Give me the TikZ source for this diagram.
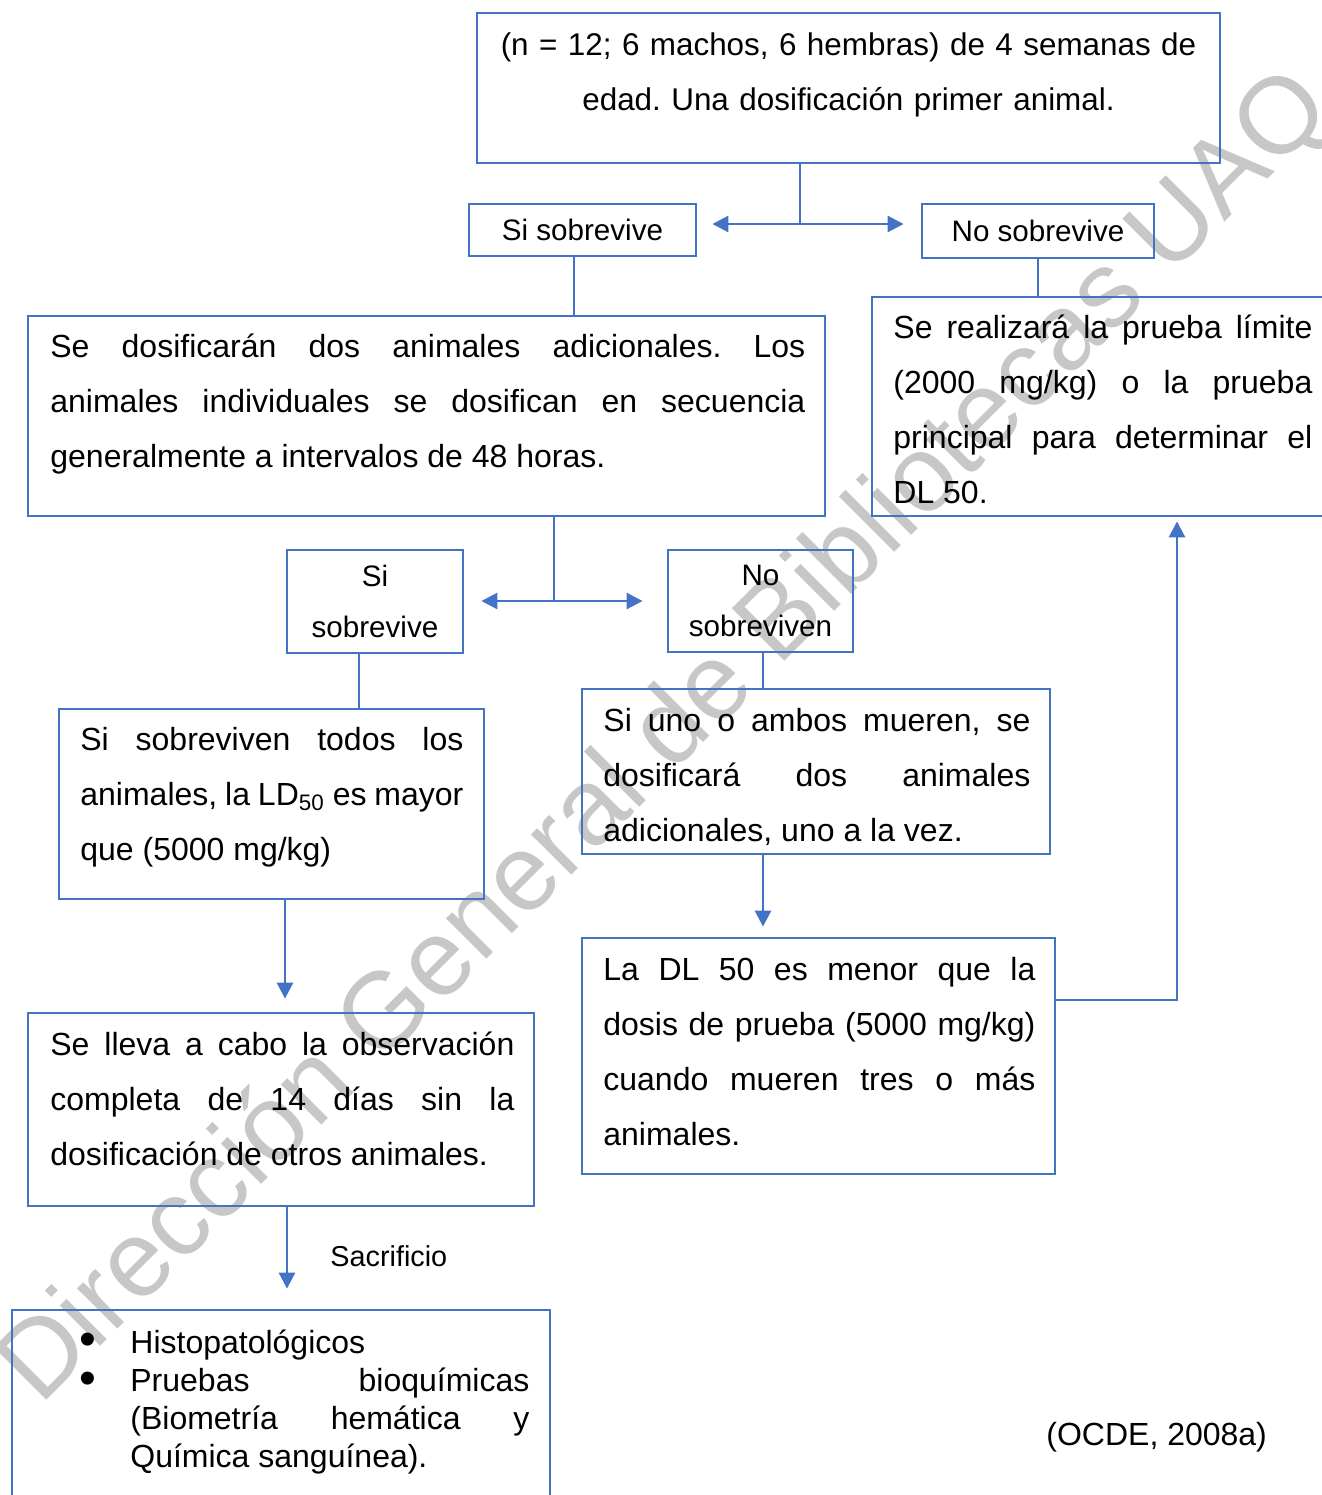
\documentclass[tikz,border=0pt]{standalone}
\usepackage{fontspec}
\setmainfont{Liberation Sans}
\usetikzlibrary{arrows.meta}
\definecolor{azul}{HTML}{4472C4}
\hyphenpenalty=10000
\exhyphenpenalty=10000
\tolerance=10000
\frenchspacing

\tikzset{
  caja/.style={draw=azul, line width=1.4pt, inner sep=0pt},
  linea/.style={azul, line width=1.4pt},
  flecha/.style={azul, line width=1.4pt, -{Triangle[length=8pt,width=8pt]}},
  letra/.style={font=\fontsize{16}{27.5}\selectfont},
  chica/.style={font=\fontsize{14.8}{25.5}\selectfont},
  texto/.style={letra, anchor=base west, inner sep=0pt, align=justify},
}

\begin{document}
\begin{tikzpicture}[x=0.5pt, y=-0.5pt]
  \useasboundingbox (0,0) rectangle (1322,1495);
  % marca de agua
  \node [rotate=45, text=black!22, font=\fontsize{54}{54}\selectfont] (marca) at (667,738) {Dirección General de Bibliotecas UAQ};

  % cajas
  \node [caja, minimum width=371.5pt, minimum height=75pt] (inicio) at (848.5,88) {};
  \node [caja, chica, minimum width=113.5pt, minimum height=26pt] (si1) at (582.5,230) {Si sobrevive};
  \node [caja, chica, minimum width=116pt, minimum height=27pt] (no1) at (1038,231) {No sobrevive};
  \node [caja, minimum width=398.5pt, minimum height=100pt] (dosif) at (426.5,416) {};
  \node [caja, minimum width=236.5pt, minimum height=109.5pt] (limite) at (1108.5,406.5) {};
  \node [caja, chica, align=center, minimum width=88pt, minimum height=51.5pt] (si2) at (375,601.5) {Si\\sobrevive};
  \node [caja, chica, align=center, minimum width=92.5pt, minimum height=51pt] (no2) at (760.5,601) {No\\sobreviven};
  \node [caja, minimum width=212.5pt, minimum height=95pt] (todos) at (271.5,804) {};
  \node [caja, minimum width=234pt, minimum height=82.5pt] (ambos) at (816,771.5) {};
  \node [caja, minimum width=236.5pt, minimum height=118pt] (menor) at (818.5,1056) {};
  \node [caja, minimum width=253pt, minimum height=96.5pt] (observ) at (281,1109.5) {};
  \node [caja, minimum width=269pt, minimum height=100pt] (analisis) at (281,1410) {};

  % textos
  \node [font=\fontsize{15.7}{27.5}\selectfont, anchor=base, inner sep=0pt, text width=371pt, align=center] (inicio-t) at (848.5,55)
    {(n = 12; 6 machos, 6 hembras) de 4 semanas de\\edad. Una dosificación primer animal.};
  \node [texto, text width=377.5pt] (dosif-t) at (50,357)
    {Se dosificarán dos animales adicionales. Los\linebreak animales individuales se dosifican en secuencia\linebreak generalmente a intervalos de 48 horas.};
  \node [texto, text width=209.5pt] (limite-t) at (893,338)
    {Se realizará la prueba límite\linebreak (2000 mg/kg) o la prueba\linebreak principal para determinar el\linebreak DL 50.};
  \node [texto, text width=191.5pt] (todos-t) at (80,750)
    {Si sobreviven todos los\linebreak animales, la LD\textsubscript{50} es mayor\linebreak que (5000 mg/kg)};
  \node [texto, text width=213.5pt] (ambos-t) at (603,731)
    {Si uno o ambos mueren, se\linebreak dosificará dos animales\linebreak adicionales, uno a la vez.};
  \node [texto, text width=216pt] (menor-t) at (603,980)
    {La DL 50 es menor que la\linebreak dosis de prueba (5000 mg/kg)\linebreak cuando mueren tres o más\linebreak animales.};
  \node [texto, text width=232pt] (observ-t) at (50,1055)
    {Se lleva a cabo la observación\linebreak completa de 14 días sin la\linebreak dosificación de otros animales.};
  \node [texto, font=\fontsize{16}{19}\selectfont, text width=199.5pt] (analisis-t) at (130,1353)
    {Histopatológicos\\Pruebas bioquímicas\linebreak (Biometría hemática y\linebreak Química sanguínea).};
  \node [anchor=base, inner sep=0pt, font=\fontsize{24}{24}\selectfont] (punto1) at (88,1355) {•};
  \node [anchor=base, inner sep=0pt, font=\fontsize{24}{24}\selectfont] (punto2) at (88,1394) {•};
  \node [letra, anchor=base west, inner sep=0pt] (fuente) at (1046,1445) {(OCDE, 2008a)};

  % conectores
  \coordinate (r1) at (800,224);
  \draw [linea] (inicio.south -| r1) -- (r1);
  \draw [flecha, shorten >=7.5pt] (r1) -- (si1.east |- r1);
  \draw [flecha, shorten >=8.5pt] (r1) -- (no1.west |- r1);
  \draw [linea] ([xshift=-4.25pt]si1.south) -- ([xshift=-4.25pt]si1.south |- dosif.north);
  \draw [linea] (no1.south) -- (no1.south |- limite.north);
  \coordinate (r2) at (554,601);
  \draw [linea] (dosif.south -| r2) -- (r2);
  \draw [flecha, shorten >=8.5pt] (r2) -- (si2.east |- r2);
  \draw [flecha, shorten >=12pt] (r2) -- (no2.west |- r2);
  \draw [linea] ([xshift=-8pt]si2.south) -- ([xshift=-8pt]si2.south |- todos.north);
  \coordinate (r3) at (763,0);
  \draw [linea] (no2.south -| r3) -- (ambos.north -| r3);
  \draw [flecha, shorten >=5pt] (ambos.south -| r3) -- (menor.north -| r3);
  \coordinate (r4) at (1177,1000);
  \draw [flecha, shorten >=2pt] (menor.east |- r4) -- (r4) -- (r4 |- limite.south);
  \coordinate (r5) at (285,0);
  \draw [flecha, shorten >=6.5pt] (todos.south -| r5) -- (observ.north -| r5);
  \coordinate (r6) at (287,0);
  \draw [flecha, shorten >=10pt] (observ.south -| r6) -- (analisis.north -| r6);
  \node [anchor=base west, inner sep=0pt, font=\fontsize{14.4}{17}\selectfont] (sacrificio) at (330,1266) {Sacrificio};
\end{tikzpicture}
\end{document}
